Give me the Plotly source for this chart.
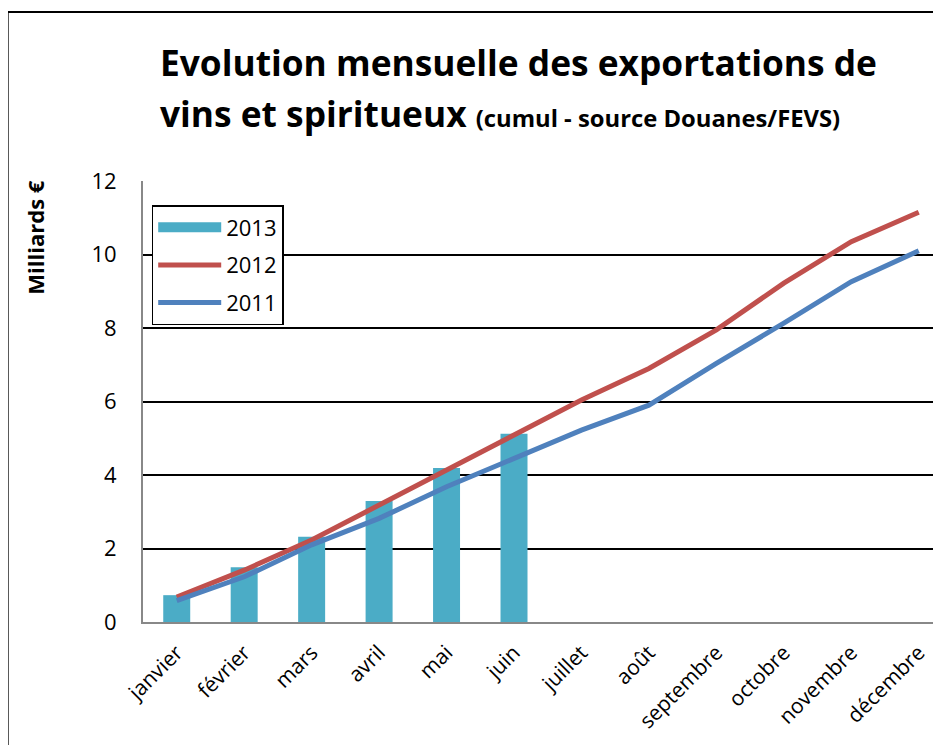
import plotly.graph_objects as go

months = ["janvier", "février", "mars", "avril", "mai", "juin", "juillet",
          "août", "septembre", "octobre", "novembre", "décembre"]
v2013 = [0.73, 1.49, 2.32, 3.29, 4.19, 5.12]
v2012 = [0.68, 1.41, 2.23, 3.18, 4.14, 5.09, 6.04, 6.9, 7.95, 9.22, 10.35, 11.15]
v2011 = [0.58, 1.23, 2.1, 2.82, 3.68, 4.45, 5.22, 5.9, 7.04, 8.13, 9.26, 10.1]
y_ticks = [0, 2, 4, 6, 8, 10, 12]

FONT = "Open Sans"
BAR_COLOR = "#4BACC6"

fig = go.Figure()
fig.add_trace(go.Bar(x=months[:len(v2013)], y=v2013, name="2013", showlegend=False,
                     legendgroup="a",
                     marker=dict(color=BAR_COLOR, line=dict(width=0)), width=0.4))
# legend entry for the bars (wide swatch like the original)
fig.add_trace(go.Scatter(x=[None], y=[None], name="2013", mode="lines", legendgroup="a",
                         line=dict(color=BAR_COLOR, width=15)))
fig.add_trace(go.Scatter(x=months, y=v2012, name="2012", mode="lines", legendgroup="b",
                         line=dict(color="#C0504D", width=5)))
fig.add_trace(go.Scatter(x=months, y=v2011, name="2011", mode="lines", legendgroup="c",
                         line=dict(color="#4F81BD", width=5)))

W, H = 797.7, 441.0
def px(x):
    return (x - 143.3) / W
def py(y):
    return (622 - y) / H

fig.update_layout(
    width=933, height=737,
    margin=dict(l=135, r=0, t=173, b=123),
    paper_bgcolor="white", plot_bgcolor="white",
    font=dict(family=FONT, color="black"),
    showlegend=True,
    legend=dict(x=px(152), y=py(205), xanchor="left", yanchor="top",
                bgcolor="white", bordercolor="black", borderwidth=1.5,
                font=dict(size=22, family=FONT), traceorder="grouped",
                itemwidth=63, tracegroupgap=6),
    xaxis=dict(type="category", categoryorder="array", categoryarray=months,
               range=[-0.5, 11.33], tickangle=-45,
               tickfont=dict(size=21, family=FONT),
               showline=True, linecolor="#888888", linewidth=2,
               showgrid=False, ticks="", ticklabelstandoff=8),
    yaxis=dict(range=[0, 12], tickvals=y_ticks,
               tickfont=dict(size=22, family=FONT),
               showline=True, linecolor="#888888", linewidth=2,
               showgrid=True, gridcolor="black", gridwidth=1.5,
               zeroline=False, ticks="", ticklabelstandoff=20),
    bargap=0.6,
)

# title
fig.add_annotation(xref="paper", yref="paper", x=px(158), y=py(62),
                   xanchor="left", yanchor="middle", showarrow=False, align="left",
                   text="<b>Evolution mensuelle des exportations de</b>",
                   font=dict(size=35.3, family=FONT))
fig.add_annotation(xref="paper", yref="paper", x=px(158), y=py(113),
                   xanchor="left", yanchor="middle", showarrow=False, align="left",
                   text="<b>vins et spiritueux</b> <b><span style='font-size:23.8px'>(cumul - source Douanes/FEVS)</span></b>",
                   font=dict(size=35.3, family=FONT))
# y title
fig.add_annotation(xref="paper", yref="paper", x=px(35), y=py(238),
                   xanchor="center", yanchor="middle", showarrow=False, textangle=-90,
                   text="<b>Milliards €</b>", font=dict(size=22, family=FONT))
# outer border
fig.add_shape(type="rect", xref="paper", yref="paper",
              x0=px(8), x1=1.2, y0=-0.5, y1=py(12),
              line=dict(color="black", width=2), layer="below")

fig.write_html("out.html")
